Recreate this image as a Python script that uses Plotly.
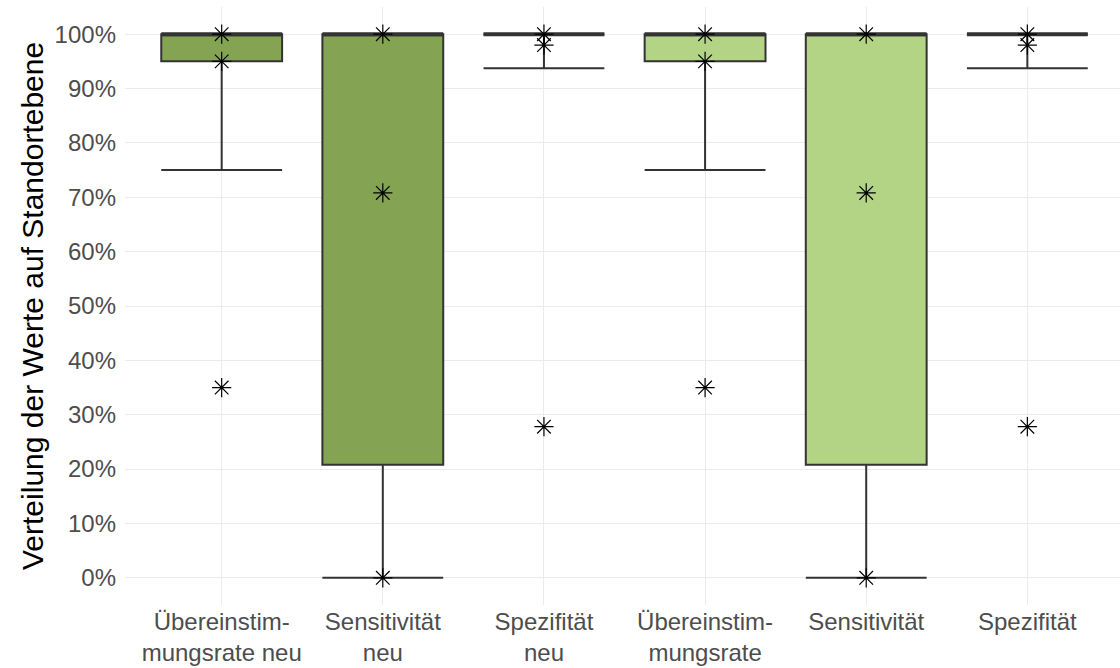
import plotly.graph_objects as go

categories = ["Übereinstim-<br>mungsrate neu", "Sensitivität<br>neu", "Spezifität<br>neu",
              "Übereinstim-<br>mungsrate", "Sensitivität", "Spezifität"]
q1 = [95, 20.8, 100, 95, 20.8, 100]
median = [100, 100, 100, 100, 100, 100]
q3 = [100, 100, 100, 100, 100, 100]
lower = [75, 0, 93.75, 75, 0, 93.75]
upper = [100, 100, 100, 100, 100, 100]
points = [[100, 95, 35], [100, 70.8, 0], [100, 98, 27.8],
          [100, 95, 35], [100, 70.8, 0], [100, 98, 27.8]]
fills = ["#84A453", "#84A453", "#84A453", "#B3D385", "#B3D385", "#B3D385"]
yticks = list(range(0, 101, 10))

BW = 0.75
LINE = "#333333"

fig = go.Figure()
xs = list(range(len(categories)))

for i in xs:
    fig.add_trace(go.Box(
        x=[i], q1=[q1[i]], median=[median[i]], q3=[q3[i]],
        lowerfence=[lower[i]], upperfence=[upper[i]],
        width=BW, whiskerwidth=1,
        fillcolor=fills[i], line=dict(color=LINE, width=2),
        boxpoints=False, showlegend=False, hoverinfo="skip",
    ))

# thick median lines
mx, my = [], []
for i in xs:
    mx += [i - BW / 2, i + BW / 2, None]
    my += [median[i], median[i], None]
fig.add_trace(go.Scatter(x=mx, y=my, mode="lines",
                         line=dict(color=LINE, width=4),
                         showlegend=False, hoverinfo="skip"))

# asterisk points
px, py = [], []
for i in xs:
    for v in points[i]:
        px.append(i)
        py.append(v)
fig.add_trace(go.Scatter(x=px, y=py, mode="markers",
                         marker=dict(symbol="asterisk-open", size=16,
                                     line=dict(color="black", width=1.2),
                                     color="black"),
                         showlegend=False, hoverinfo="skip"))

W_PLOT = 995
fig.update_layout(
    width=1120, height=668,
    margin=dict(l=125, r=0, t=7, b=63),
    plot_bgcolor="white", paper_bgcolor="white",
    font=dict(family="Liberation Sans, Arial, sans-serif"),
    xaxis=dict(range=[-0.6, 5.575], tickvals=xs, ticktext=categories,
               showgrid=True, gridcolor="#EBEBEB", gridwidth=1.3,
               zeroline=False, showline=False, ticks="", automargin=False,
               ticklabelstandoff=0,
               tickfont=dict(size=24, color="#4D4D4D")),
    yaxis=dict(range=[-5, 105], tickvals=yticks,
               ticktext=[f"{v}%" for v in yticks],
               showgrid=True, gridcolor="#EBEBEB", gridwidth=1.3,
               zeroline=False, showline=False, ticks="", automargin=False,
               ticklabelstandoff=8,
               tickfont=dict(size=24, color="#4D4D4D")),
    annotations=[dict(text="Verteilung der Werte auf Standortebene",
                      xref="paper", yref="paper",
                      x=-(125 - 32) / W_PLOT, y=0.5,
                      xanchor="center", yanchor="middle",
                      textangle=-90, showarrow=False,
                      font=dict(size=30, color="black"))],
)

fig.write_html("out.html",
               config={"displayModeBar": False},
               post_script="document.body.style.margin='0';document.body.style.overflow='hidden';")
